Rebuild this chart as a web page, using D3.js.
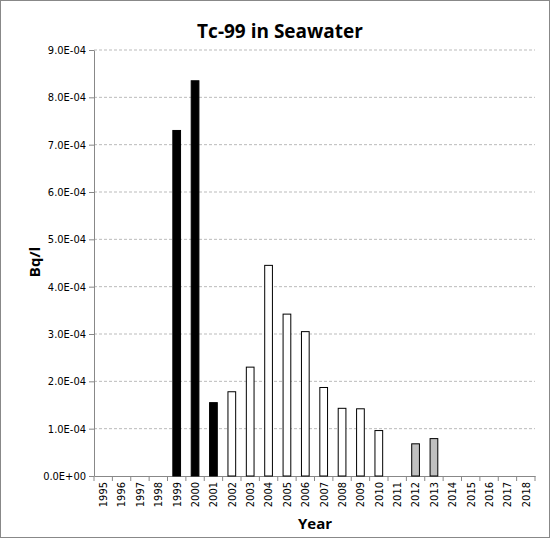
<!DOCTYPE html><html><head><script src="https://cdn.jsdelivr.net/npm/d3@7"></script>
<style>body{margin:0;background:#fff}</style></head><body><script>
const years=d3.range(1995,2019).map(String);
const values=[null,null,null,null,7.3e-4,8.35e-4,1.55e-4,1.78e-4,2.3e-4,4.45e-4,3.42e-4,3.05e-4,1.87e-4,1.43e-4,1.42e-4,0.96e-4,null,0.68e-4,0.79e-4,null,null,null,null,null];
const groups=["n","n","n","n","a","a","a","b","b","b","b","b","b","b","b","b","n","c","c","n","n","n","n","n"];
const fills={a:"#000",b:"#fff",c:"#c0c0c0"};
const yTicks=d3.range(0,10).map(i=>i*1e-4);
const W=550,H=538,m={l:94,r:15,t:50,b:62};
const svg=d3.select("body").append("svg").attr("width",W).attr("height",H);
svg.append("rect").attr("x",0.5).attr("y",0.5).attr("width",W-1).attr("height",H-1).attr("fill","#fff").attr("stroke","#888");
const x=d3.scaleBand().domain(years).range([m.l,W-m.r]);
const y=d3.scaleLinear().domain([0,9e-4]).range([H-m.b,m.t]);
const fmt=v=>{const s=v.toExponential(1).toUpperCase();return s.replace(/E([+-])(\d)$/,"E$10$2");};
svg.append("g").selectAll("line").data(yTicks.slice(1)).join("line").attr("x1",m.l).attr("x2",W-m.r).attr("y1",d=>y(d)).attr("y2",d=>y(d)).attr("stroke","#bbb").attr("stroke-dasharray","3,2");
const ya=svg.append("g").attr("transform",`translate(${m.l},0)`).call(d3.axisLeft(y).tickValues(yTicks).tickFormat(fmt).tickSize(5).tickSizeOuter(0));
ya.selectAll("text").style("font-family","DejaVu Sans Condensed, DejaVu Sans").style("font-size","11px").attr("fill","#000");
ya.selectAll("path,line").attr("stroke","#888");
const xa=svg.append("g").attr("transform",`translate(0,${H-m.b})`).call(d3.axisBottom(x).tickSize(0).tickSizeOuter(0));
xa.selectAll("text").style("font-family","DejaVu Sans Condensed, DejaVu Sans").style("font-size","11px").attr("fill","#000").attr("transform","rotate(-90)").attr("text-anchor","end").attr("dx","-6").attr("dy","0.35em").attr("x",0).attr("y",0);
xa.select("path").attr("stroke","#888");
xa.selectAll("g.tk").data(d3.range(years.length+1)).join("line").attr("x1",i=>m.l+i*x.step()).attr("x2",i=>m.l+i*x.step()).attr("y1",0).attr("y2",5).attr("stroke","#888");
const bw=x.bandwidth()*0.42;
svg.append("g").selectAll("rect").data(years.map((yr,i)=>({yr,v:values[i],g:groups[i]})).filter(d=>d.v!=null)).join("rect")
.attr("x",d=>x(d.yr)+(x.bandwidth()-bw)/2).attr("width",bw).attr("y",d=>y(d.v)).attr("height",d=>y(0)-y(d.v)).attr("fill",d=>fills[d.g]).attr("stroke","#000").attr("stroke-width",1);
svg.append("text").attr("x",280).attr("y",38).attr("text-anchor","middle").attr("font-family","Open Sans, sans-serif").attr("font-weight","bold").attr("font-size",19).text("Tc-99 in Seawater");
svg.append("text").attr("transform","translate(40,262) rotate(-90)").attr("text-anchor","middle").attr("font-family","Open Sans, sans-serif").attr("font-weight","bold").attr("font-size",15).text("Bq/l");
svg.append("text").attr("x",315).attr("y",529).attr("text-anchor","middle").attr("font-family","Open Sans, sans-serif").attr("font-weight","bold").attr("font-size",15).text("Year");
</script></body></html>
